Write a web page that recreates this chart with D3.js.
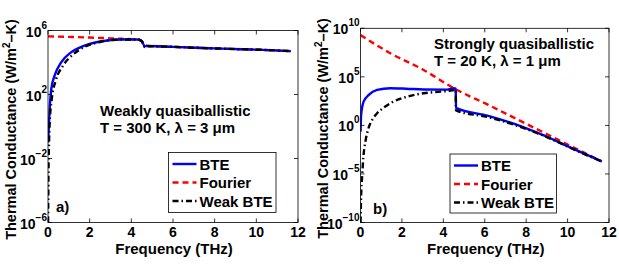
<!DOCTYPE html>
<html>
<head>
<meta charset="utf-8">
<script src="https://cdn.jsdelivr.net/npm/d3@7"></script>
<style>
  body { margin: 0; background: #fff; }
  svg { display: block; font-family: "Liberation Sans", Arial, sans-serif; font-weight: bold; }
</style>
</head>
<body>
<svg id="chart" width="619" height="265"></svg>
<script>
// frequency ticks shared by both panels
const xTicks = [0, 2, 4, 6, 8, 10, 12]

// panel a: weakly quasiballistic (values as log10 of W/m^2-K)
const aTicks = [-6, -2, 2, 6]
const aBteF = [0.01, 0.03, 0.08, 0.16, 0.32, 0.64, 1.12, 1.76, 2.56, 3.52, 4.3, 4.5, 4.64, 4.8, 5.5, 7.1, 8.7, 10.3, 11.65]
const aBte = [-1.0, -0.3, 1.1, 2.36, 3.19, 4.02, 4.65, 5.06, 5.33, 5.44, 5.44, 5.33, 5.02, 5.03, 5.0, 4.92, 4.85, 4.79, 4.71]
const aFourierF = [0, 1, 2, 3, 3.5, 4.0, 4.3, 4.5, 4.64, 4.8, 5.5, 7.1, 8.7, 10.3, 11.65]
const aFourier = [5.63, 5.6, 5.56, 5.51, 5.48, 5.46, 5.44, 5.35, 5.1, 5.04, 5.0, 4.92, 4.85, 4.79, 4.71]
const aWeakF = [0.005, 0.02, 0.05, 0.08, 0.18, 0.38, 0.72, 1.2, 1.76, 2.56, 3.52, 4.3, 4.5, 4.64, 4.8, 5.5, 7.1, 8.7, 10.3, 11.65]
const aWeak = [-6, -3.3, -1.0, 0.2, 1.7, 2.9, 3.8, 4.5, 4.98, 5.3, 5.44, 5.44, 5.33, 4.96, 5.02, 5.0, 4.92, 4.85, 4.79, 4.71]

// panel b: strongly quasiballistic
const bTicks = [-10, -5, 0, 5, 10]
const bBteF = [0.005, 0.03, 0.15, 0.4, 0.8, 1.44, 2.2, 3.05, 4.18, 4.5, 4.6, 4.61, 6.17, 7.79, 8.91, 10.2, 11.65]
const bBte = [-0.64, 1.08, 2.45, 3.14, 3.65, 3.83, 3.78, 3.7, 3.68, 3.83, 3.78, 1.8, 0.98, -0.12, -1.08, -2.35, -3.7]
const bFourierF = [0, 1.44, 3.05, 4.5, 6.17, 7.79, 8.91, 10.2, 11.65]
const bFourier = [9.3, 7.43, 5.71, 3.83, 2.11, 0.39, -0.8, -2.18, -3.7]
const bWeakF = [0.003, 0.03, 0.08, 0.15, 0.25, 0.4, 0.6, 0.8, 1.1, 1.44, 2.25, 3.05, 3.86, 4.42, 4.6, 4.61, 6.17, 7.79, 8.91, 10.2, 11.65]
const bWeak = [-10, -7.3, -5.2, -3.0, -1.5, -0.2, 0.7, 1.25, 1.8, 2.28, 2.96, 3.31, 3.48, 3.6, 3.7, 1.55, 0.85, -0.2, -1.12, -2.38, -3.72]

const legendNames = ['BTE', 'Fourier', 'Weak BTE']

const svg = d3.select('#chart')

const styles = [
  { color: '#0000ff', dash: null },
  { color: '#ff0000', dash: '6,4' },
  { color: '#000000', dash: '6,3,1.5,3' }
]

function drawPanel (cfg) {
  const x = d3.scaleLinear().domain([0, 12]).range([cfg.left, cfg.right])
  const y = d3.scaleLog().domain([Math.pow(10, cfg.ymin), Math.pow(10, cfg.ymax)]).range([cfg.bottom, cfg.top])

  const g = svg.append('g')

  // clip so curves stay inside the box
  const clipId = 'clip' + cfg.id
  g.append('clipPath').attr('id', clipId)
    .append('rect')
    .attr('x', cfg.left).attr('y', cfg.top)
    .attr('width', cfg.right - cfg.left).attr('height', cfg.bottom - cfg.top)

  const line = d3.line()
    .x(d => x(d[0]))
    .y(d => y(Math.pow(10, d[1])))
    .curve(d3.curveMonotoneX)

  // draw order: fourier, bte, weak
  const order = [1, 0, 2]
  order.forEach(i => {
    const s = cfg.series[i]
    const pts = s.f.map((f, j) => [f, s.v[j]])
    g.append('path')
      .datum(pts)
      .attr('clip-path', `url(#${clipId})`)
      .attr('fill', 'none')
      .attr('stroke', styles[i].color)
      .attr('stroke-width', 2.4)
      .attr('stroke-dasharray', styles[i].dash)
      .attr('d', line)
  })

  // box
  g.append('rect')
    .attr('x', cfg.left).attr('y', cfg.top)
    .attr('width', cfg.right - cfg.left).attr('height', cfg.bottom - cfg.top)
    .attr('fill', 'none').attr('stroke', '#000').attr('stroke-width', 0.8)

  // x ticks (inside, top and bottom)
  xTicks.forEach(t => {
    g.append('line').attr('x1', x(t)).attr('x2', x(t)).attr('y1', cfg.bottom).attr('y2', cfg.bottom - 4)
      .attr('stroke', '#000').attr('stroke-width', 0.8)
    g.append('line').attr('x1', x(t)).attr('x2', x(t)).attr('y1', cfg.top).attr('y2', cfg.top + 4)
      .attr('stroke', '#000').attr('stroke-width', 0.8)
    g.append('text').attr('x', x(t)).attr('y', cfg.bottom + 14.5)
      .attr('text-anchor', 'middle').attr('font-size', 14).text(t)
  })

  cfg.yTicks.forEach(t => {
    const yy = y(Math.pow(10, t))
    g.append('line').attr('x1', cfg.left).attr('x2', cfg.left + 4).attr('y1', yy).attr('y2', yy)
      .attr('stroke', '#000').attr('stroke-width', 0.8)
    g.append('line').attr('x1', cfg.right).attr('x2', cfg.right - 4).attr('y1', yy).attr('y2', yy)
      .attr('stroke', '#000').attr('stroke-width', 0.8)
    const lbl = g.append('text').attr('x', cfg.left - 1).attr('y', yy + 6)
      .attr('text-anchor', 'end').attr('font-size', 14)
    lbl.append('tspan').text('10')
    lbl.append('tspan').attr('dy', -8).attr('font-size', 10).text(t < 0 ? '\u2212' + (-t) : t)
  })

  // axis titles
  g.append('text').attr('x', (cfg.left + cfg.right) / 2 + 1).attr('y', cfg.bottom + 31)
    .attr('text-anchor', 'middle').attr('font-size', 15).text('Frequency (THz)')

  const yl = g.append('text')
    .attr('transform', `translate(${cfg.ylabelX},${(cfg.top + cfg.bottom) / 2 + 3}) rotate(-90)`)
    .attr('text-anchor', 'middle').attr('font-size', 14.5)
  yl.append('tspan').text('Thermal Conductance (W/m')
  yl.append('tspan').attr('dy', -6).attr('font-size', 10).text('2')
  yl.append('tspan').attr('dy', 6).text('\u2013K)')

  // annotation
  cfg.note.forEach((txt, i) => {
    g.append('text').attr('x', cfg.noteX).attr('y', cfg.noteY + i * 17)
      .attr('font-size', 15).text(txt)
  })
  g.append('text').attr('x', cfg.tagX).attr('y', cfg.tagY).attr('font-size', 15).text(cfg.tag)

  // legend
  const L = cfg.legend
  g.append('rect').attr('x', L.x).attr('y', L.y).attr('width', L.w).attr('height', L.h)
    .attr('fill', '#fff').attr('stroke', '#000').attr('stroke-width', 0.8)
  legendNames.forEach((name, i) => {
    const ly = L.y + 11.5 + i * 18.5
    g.append('line').attr('x1', L.x + 4).attr('x2', L.x + 28).attr('y1', ly).attr('y2', ly)
      .attr('stroke', styles[i].color).attr('stroke-width', 2.4)
      .attr('stroke-dasharray', styles[i].dash)
    g.append('text').attr('x', L.x + 31).attr('y', ly + 5.5).attr('font-size', 15).text(name)
  })
}

drawPanel({
  id: 'a', left: 48, right: 298, top: 30.5, bottom: 222.5, ymin: -6, ymax: 6,
  yTicks: aTicks, ylabelX: 16,
  series: [{ f: aBteF, v: aBte }, { f: aFourierF, v: aFourier }, { f: aWeakF, v: aWeak }],
  note: ['Weakly quasiballistic', 'T = 300 K, \u03bb = 3 \u03bcm'], noteX: 100, noteY: 116,
  tag: 'a)', tagX: 56, tagY: 212,
  legend: { x: 168.5, y: 152.5, w: 107.5, h: 60 }
})

drawPanel({
  id: 'b', left: 360.5, right: 609, top: 28.3, bottom: 222.5, ymin: -10, ymax: 10,
  yTicks: bTicks, ylabelX: 328,
  series: [{ f: bBteF, v: bBte }, { f: bFourierF, v: bFourier }, { f: bWeakF, v: bWeak }],
  note: ['Strongly quasiballistic', 'T = 20 K, \u03bb = 1 \u03bcm'], noteX: 434, noteY: 49,
  tag: 'b)', tagX: 373, tagY: 214,
  legend: { x: 450, y: 154, w: 106.5, h: 59 }
})
</script>
</body>
</html>
